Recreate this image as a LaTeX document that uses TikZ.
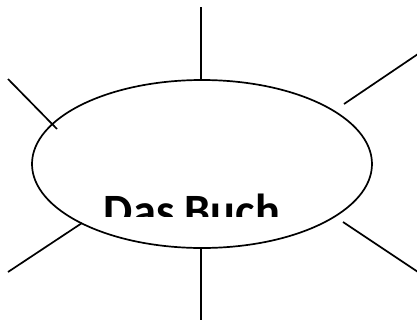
\documentclass[tikz,border=0pt]{standalone}
\usepackage{fontspec}
\setmainfont{Carlito}
\usetikzlibrary{shapes.geometric}
\begin{document}
\begin{tikzpicture}[x=1bp,y=-1bp,
  ln/.style={line width=1.7bp,black},
  buch/.style={ellipse,draw,line width=1.7bp,minimum width=340bp,minimum height=168bp,inner sep=0pt}]
\useasboundingbox (0,0) rectangle (417,322);
\node[buch] (e) at (202,164) {};
\begin{scope}
\clip (60,150) rectangle (350,216);
\node[font=\bfseries\fontsize{46.5}{50}\selectfont,anchor=base,inner sep=0pt] (t) at (192,226) {Das Buch};
\end{scope}
\coordinate (t1) at (201,7);
\coordinate (t2) at (201,80);
\coordinate (b1) at (201,248);
\coordinate (b2) at (201,320);
\coordinate (ul1) at (8,79);
\coordinate (ul2) at (57,129);
\coordinate (ur1) at (344,104);
\coordinate (ur2) at (418,54);
\coordinate (ll1) at (8,272);
\coordinate (ll2) at (82,223);
\coordinate (lr1) at (343,222);
\coordinate (lr2) at (418,272);
\draw[ln] (t1) -- (t2);
\draw[ln] (b1) -- (b2);
\draw[ln] (ul1) -- (ul2);
\draw[ln] (ur1) -- (ur2);
\draw[ln] (ll1) -- (ll2);
\draw[ln] (lr1) -- (lr2);
\end{tikzpicture}
\end{document}
